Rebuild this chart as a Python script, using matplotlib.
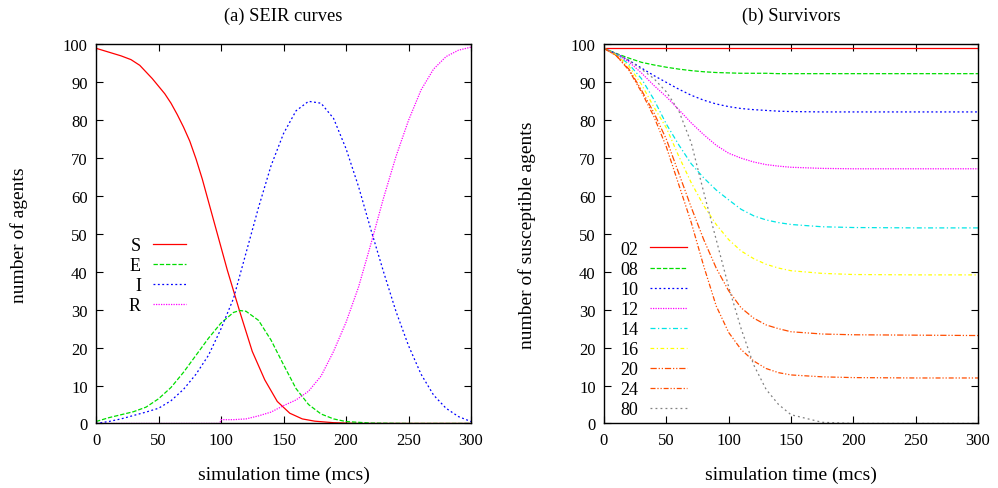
import matplotlib
matplotlib.use("Agg")
import matplotlib.pyplot as plt

plt.rcParams['font.family'] = ['Liberation Serif', 'DejaVu Serif']
plt.rcParams['font.size'] = 12

# ---------------- (a) SEIR curves ----------------
s_t = [0, 10, 20, 28, 35, 45, 55, 60, 65, 70, 75, 80, 85, 95, 105, 115, 125, 135, 145, 155, 165, 175, 190, 210, 250, 300]
s_v = [99, 98, 97, 96, 94.5, 91, 87, 84.5, 81.5, 78.2, 74.5, 69.8, 64.5, 52.5, 40.5, 29.5, 19, 11.5, 5.8, 2.7, 1.2, 0.6, 0.2, 0, 0, 0]

e_t = [0, 10, 20, 30, 40, 50, 60, 70, 80, 90, 100, 110, 115, 120, 130, 140, 150, 160, 170, 180, 190, 200, 220, 250, 300]
e_v = [0.5, 1.5, 2.3, 3.1, 4.3, 6.5, 9.5, 13.5, 18, 22.5, 26.5, 29.3, 29.8, 29.6, 27.2, 22, 15.5, 9.2, 5, 2.5, 1.2, 0.5, 0.1, 0, 0]

i_t = [0, 10, 20, 30, 40, 50, 60, 70, 80, 90, 100, 110, 120, 130, 140, 150, 160, 170, 180, 190,
       200, 210, 220, 230, 240, 250, 260, 270, 280, 290, 300]
i_v = [0, 0.5, 1.2, 2.1, 3, 4, 6, 9, 13, 18, 25, 33, 45, 57, 68, 76.5, 82.5, 85, 84.5, 80.5,
       72.5, 62.5, 51, 40, 29.5, 20.5, 13, 7.5, 4, 1.8, 0.5]

r_t = [0, 50, 99, 100, 110, 120, 130, 140, 150, 160, 170, 180, 190, 200, 210, 220, 230, 240, 250, 260, 270, 280, 290, 300]
r_v = [0, 0, 0, 1, 1, 1.2, 2, 3, 4.7, 6.2, 8.5, 12.5, 19, 26.7, 36, 47.5, 59.5, 70.5, 80, 88, 93.5, 96.8, 98.5, 99.3]

# ---------------- (b) Survivors ----------------
surv_t = [0, 10, 20, 30, 40, 50, 60, 70, 80, 90, 100, 110, 120, 130, 140, 150, 175, 200, 250, 300]
surv_labels = ['02', '08', '10', '12', '14', '16', '20', '24', '80']
v02 = [99] * 20
v08 = [99, 97.6, 96.4, 95.3, 94.6, 94, 93.5, 93.1, 92.8, 92.6, 92.5, 92.4, 92.4, 92.4, 92.3, 92.3, 92.3, 92.3, 92.3, 92.3]
v10 = [99, 97.5, 95.8, 93.8, 91.8, 90, 88.2, 86.6, 85.3, 84.3, 83.6, 83.1, 82.8, 82.6, 82.4, 82.3, 82.2, 82.2, 82.2, 82.2]
v12 = [99, 97.4, 95.4, 92.5, 89.2, 86.2, 82.8, 79.3, 76.2, 73.4, 71.3, 70, 69, 68.3, 67.9, 67.6, 67.3, 67.2, 67.2, 67.2]
v14 = [99, 97.3, 94.8, 91, 85.5, 79, 73.5, 68.5, 64.8, 61.6, 59, 56.5, 54.8, 53.7, 53, 52.5, 51.9, 51.7, 51.6, 51.6]
v16 = [99, 97.2, 94.3, 89.5, 83.5, 78, 70.5, 63.5, 57.5, 52.5, 48.5, 45.5, 43.5, 42, 41, 40.3, 39.6, 39.3, 39.2, 39.2]
v20 = [99, 97, 93.5, 88, 82, 75, 66, 57, 48.5, 41, 35, 30.5, 27.8, 26, 25, 24.2, 23.6, 23.4, 23.3, 23.2]
v24 = [99, 97, 93.2, 87.5, 81, 73, 63, 53, 41.5, 31, 24, 19.5, 16.5, 14.5, 13.4, 12.8, 12.3, 12.1, 12, 12]
v80 = [99, 97.6, 95.8, 93.5, 91, 87.5, 82.5, 74, 61, 48.5, 36, 25, 15.5, 9, 5, 2.3, 0.3, 0, 0, 0]
surv_values = [v02, v08, v10, v12, v14, v16, v20, v24, v80]

xticks = [0, 50, 100, 150, 200, 250, 300]
yticks = [0, 10, 20, 30, 40, 50, 60, 70, 80, 90, 100]

fig = plt.figure(figsize=(9.98, 4.89), dpi=100)
axL = fig.add_axes([0.0962, 0.132, 0.3758, 0.775])
axR = fig.add_axes([0.6052, 0.132, 0.3748, 0.775])

lw = 0.9
axL.plot(s_t, s_v, color='#ff0000', lw=lw, label='S')
axL.plot(e_t, e_v, color='#00dd00', lw=lw, dashes=(3.5, 1.5), label='E')
axL.plot(i_t, i_v, color='#0000ff', lw=lw, dashes=(1.5, 2), label='I')
axL.plot(r_t, r_v, color='#ff00ff', lw=lw, dashes=(1, 1), label='R')

colors = ['#ff0000', '#00dd00', '#0000ff', '#ff00ff', '#00e5e5', '#ffff00', '#ff4d00', '#ff4d00', '#808080']
styles = [None, (3.5, 1.5), (1.5, 2), (1, 1), (4, 2, 1, 2), (3, 2, 1, 2),
          (5, 1.5, 1, 1.5, 1, 1.5), (4, 1.5, 1, 1.5, 1, 1.5), (1.5, 2.5)]
for lab, vals, c, st in zip(surv_labels, surv_values, colors, styles):
    if st is None:
        axR.plot(surv_t, vals, color=c, lw=lw, label=lab)
    else:
        axR.plot(surv_t, vals, color=c, lw=lw, dashes=st, label=lab)

for ax in (axL, axR):
    ax.set_xlim(0, 300)
    ax.set_ylim(0, 100)
    ax.set_xticks(xticks)
    ax.set_yticks(yticks)
    ax.tick_params(direction='in', top=True, right=True, length=5, width=0.8, labelsize=12, pad=6)
    for sp in ax.spines.values():
        sp.set_linewidth(1.0)
    ax.set_xlabel('simulation time (mcs)', fontsize=14, labelpad=13)

axL.set_ylabel('number of agents', fontsize=14, labelpad=25)
axR.set_ylabel('number of susceptible agents', fontsize=14, labelpad=25)
axL.set_title('(a) SEIR curves', fontsize=13.3, pad=18)
axR.set_title('(b) Survivors', fontsize=13.3, pad=18)

axL.legend(loc='upper left', bbox_to_anchor=(0.088, 0.492), frameon=False, markerfirst=False,
           fontsize=13, handlelength=1.8, handletextpad=0.67, labelspacing=0.17,
           borderpad=0, borderaxespad=0)
axR.legend(loc='upper left', bbox_to_anchor=(0.043, 0.482), frameon=False, markerfirst=False,
           fontsize=13, handlelength=2.05, handletextpad=0.67, labelspacing=0.17,
           borderpad=0, borderaxespad=0)

fig.savefig('out.png', dpi=100)
